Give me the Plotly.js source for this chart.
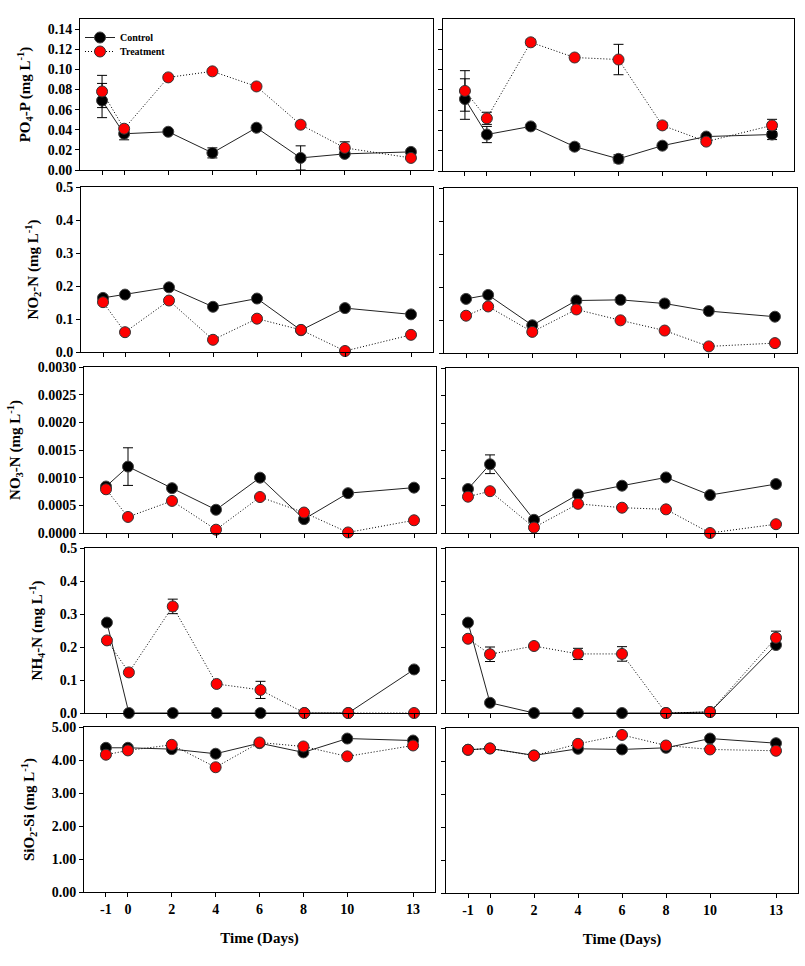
<!DOCTYPE html>
<html><head><meta charset="utf-8">
<script src="https://cdn.plot.ly/plotly-3.0.1.min.js"></script>
<style>html,body{margin:0;padding:0;background:#fff}#chart{width:805px;height:966px}</style>
</head><body><div id="chart"></div>
<script>
// ---------- data ----------
const days = [-1, 0, 2, 4, 6, 8, 10, 13];
const dayLabels = ['-1', '0', '2', '4', '6', '8', '10', '13'];

// PO4-P (left = A, right = B)
const po4CtrlA    = [0.069, 0.036, 0.038, 0.017, 0.042, 0.012, 0.016, 0.018];
const po4CtrlAErr = [0.017, 0.006, 0, 0.005, 0, 0.012, 0, 0];
const po4TrtA     = [0.078, 0.041, 0.092, 0.098, 0.083, 0.045, 0.022, 0.012];
const po4TrtAErr  = [0.016, 0, 0, 0, 0, 0, 0.006, 0];
const po4CtrlB    = [0.071, 0.036, 0.044, 0.024, 0.012, 0.025, 0.034, 0.036];
const po4CtrlBErr = [0.020, 0.008, 0, 0.003, 0.004, 0, 0, 0.005];
const po4TrtB     = [0.079, 0.052, 0.127, 0.112, 0.110, 0.045, 0.029, 0.045];
const po4TrtBErr  = [0.020, 0.006, 0.003, 0, 0.015, 0.003, 0, 0.006];

// NO2-N
const no2CtrlA = [0.164, 0.174, 0.196, 0.137, 0.162, 0.066, 0.133, 0.114];
const no2TrtA  = [0.151, 0.060, 0.156, 0.037, 0.101, 0.067, 0.003, 0.052];
const no2CtrlB = [0.164, 0.176, 0.084, 0.159, 0.161, 0.150, 0.127, 0.110];
const no2TrtB  = [0.113, 0.141, 0.064, 0.132, 0.099, 0.068, 0.020, 0.030];

// NO3-N
const no3CtrlA    = [0.00084, 0.00120, 0.00081, 0.00042, 0.00100, 0.00025, 0.00072, 0.00082];
const no3CtrlAErr = [0, 0.00034, 0, 0, 0, 0, 0, 0];
const no3TrtA     = [0.00079, 0.00029, 0.00058, 0.00006, 0.00065, 0.00037, 0.00001, 0.00023];
const no3CtrlB    = [0.00080, 0.00125, 0.00024, 0.00070, 0.00086, 0.00101, 0.00069, 0.00089];
const no3CtrlBErr = [0, 0.00017, 0, 0.00004, 0, 0, 0, 0.00005];
const no3TrtB     = [0.00066, 0.00076, 0.00010, 0.00053, 0.00046, 0.00043, 0.00000, 0.00016];

// NH4-N
const nh4CtrlA   = [0.274, 0, 0, 0, 0, 0, 0, 0.132];
const nh4TrtA    = [0.220, 0.123, 0.323, 0.088, 0.070, 0, 0, 0];
const nh4TrtAErr = [0, 0, 0.022, 0, 0.026, 0, 0, 0];
const nh4CtrlB   = [0.274, 0.031, 0, 0, 0, 0, 0.003, 0.206];
const nh4TrtB    = [0.225, 0.178, 0.203, 0.179, 0.179, 0, 0.003, 0.228];
const nh4TrtBErr = [0, 0.022, 0, 0.017, 0.022, 0, 0, 0.020];

// SiO2-Si
const sioCtrlA = [4.37, 4.37, 4.33, 4.19, 4.51, 4.23, 4.65, 4.59];
const sioTrtA  = [4.16, 4.29, 4.46, 3.78, 4.53, 4.41, 4.11, 4.44];
const sioCtrlB = [4.34, 4.38, 4.17, 4.37, 4.35, 4.40, 4.68, 4.54];
const sioTrtB  = [4.34, 4.38, 4.16, 4.52, 4.79, 4.47, 4.35, 4.31];

const seriesNames = ['Control', 'Treatment'];
const yTitles = [
  'PO<sub>4</sub>-P (mg L<sup>-1</sup>)',
  'NO<sub>2</sub>-N (mg L<sup>-1</sup>)',
  'NO<sub>3</sub>-N (mg L<sup>-1</sup>)',
  'NH<sub>4</sub>-N (mg L<sup>-1</sup>)',
  'SiO<sub>2</sub>-Si (mg L<sup>-1</sup>)'
];
const xTitle = 'Time (Days)';

// ---------- panel definitions ----------
const rows = [
  {A: [po4CtrlA, po4CtrlAErr, po4TrtA, po4TrtAErr], B: [po4CtrlB, po4CtrlBErr, po4TrtB, po4TrtBErr]},
  {A: [no2CtrlA, null, no2TrtA, null], B: [no2CtrlB, null, no2TrtB, null]},
  {A: [no3CtrlA, no3CtrlAErr, no3TrtA, null], B: [no3CtrlB, no3CtrlBErr, no3TrtB, null]},
  {A: [nh4CtrlA, null, nh4TrtA, nh4TrtAErr], B: [nh4CtrlB, null, nh4TrtB, nh4TrtBErr]},
  {A: [sioCtrlA, null, sioTrtA, null], B: [sioCtrlB, null, sioTrtB, null]}
];
const yCfg = [
  {range: [0, 0.15], dtick: 0.02, dec: 2},
  {range: [0, 0.5], dtick: 0.1, dec: 1},
  {range: [0, 0.003], dtick: 0.0005, dec: 4},
  {range: [0, 0.5], dtick: 0.1, dec: 1},
  {range: [0, 5], dtick: 1, dec: 2}
];
// pixel boxes [x0, x1, yTop, yBottom]
const W = 805, H = 966;
const boxes = [
  [[80, 433, 19, 170], [443, 794, 19, 171]],
  [[81, 433, 187, 352], [444, 797, 188, 353]],
  [[84, 436, 367, 533], [446, 798, 368, 533]],
  [[85, 436, 548, 713], [446, 798, 548, 713]],
  [[84, 435, 727, 892], [446, 798, 728, 893]]
];

const FONT = 'Liberation Serif, Times New Roman, serif';
const traces = [];
const layout = {
  width: W, height: H,
  margin: {l: 0, r: 0, t: 0, b: 0},
  paper_bgcolor: '#fff', plot_bgcolor: '#fff',
  font: {family: FONT, color: '#000'},
  showlegend: true,
  legend: {x: 80 / W, y: 1 - 23 / H, xanchor: 'left', yanchor: 'top', bgcolor: 'rgba(0,0,0,0)',
           font: {family: FONT, size: 10, weight: 'bold', color: '#000'}},
  legend2: {x: 80 / W, y: 1 - 37 / H, xanchor: 'left', yanchor: 'top', bgcolor: 'rgba(0,0,0,0)',
            font: {family: FONT, size: 10, weight: 'bold', color: '#000'}}
};

function errObj(arr) {
  if (!arr) return {visible: false};
  return {type: 'data', array: arr.map(v => v > 0 ? v : NaN), visible: true,
          color: '#000', thickness: 1, width: 5};
}

rows.forEach((row, r) => {
  ['A', 'B'].forEach((col, c) => {
    const idx = r * 2 + c + 1;
    const xa = 'x' + (idx === 1 ? '' : idx), ya = 'y' + (idx === 1 ? '' : idx);
    const [ctrl, ctrlErr, trt, trtErr] = row[col];
    const first = idx === 1;
    traces.push({
      x: days, y: ctrl, xaxis: xa, yaxis: ya, type: 'scatter', mode: 'lines+markers',
      name: seriesNames[0], showlegend: first, legend: 'legend', cliponaxis: false,
      line: {color: '#222', width: 1},
      marker: {color: '#000', size: 11, line: {color: '#444', width: 1}},
      error_y: errObj(ctrlErr)
    });
    traces.push({
      x: days, y: trt, xaxis: xa, yaxis: ya, type: 'scatter', mode: 'lines+markers',
      name: seriesNames[1], showlegend: first, legend: 'legend2', cliponaxis: false,
      line: {color: '#000', width: 1, dash: '1px,2px'},
      marker: {color: '#ff0000', size: 11, line: {color: '#333', width: 1}},
      error_y: errObj(trtErr)
    });
    const b = boxes[r][c];
    const axKey = idx === 1 ? '' : idx;
    const yc = yCfg[r];
    const tickvals = [];
    for (let v = yc.range[0]; v <= yc.range[1] + 1e-12; v += yc.dtick) tickvals.push(+v.toFixed(6));
    const xax = {
      domain: [b[0] / W, b[1] / W], range: [-2, 14], anchor: ya,
      tickmode: 'array', tickvals: days, ticktext: dayLabels,
      showticklabels: r === 4, ticks: 'outside', ticklen: 4, tickwidth: 1, tickcolor: '#000',
      showline: true, linecolor: '#000', linewidth: 1, mirror: true,
      showgrid: false, zeroline: false,
      tickfont: {family: FONT, size: 14, weight: 'bold', color: '#000'}
    };
    if (r === 4) xax.title = {text: xTitle, font: {family: FONT, size: 15, weight: 'bold', color: '#000'}, standoff: 16};
    layout['xaxis' + axKey] = xax;
    const yax = {
      domain: [1 - b[3] / H, 1 - b[2] / H], range: yc.range, anchor: xa,
      tickmode: 'array', tickvals: tickvals, ticktext: tickvals.map(v => v.toFixed(yc.dec)),
      showticklabels: c === 0, ticks: 'outside', ticklen: 4, tickwidth: 1, tickcolor: '#000',
      showline: true, linecolor: '#000', linewidth: 1, mirror: true,
      showgrid: false, zeroline: false,
      tickfont: {family: FONT, size: 14, weight: 'bold', color: '#000'}
    };
    if (c === 0) yax.title = {text: yTitles[r], font: {family: FONT, size: 15, weight: 'bold', color: '#000'}, standoff: 13};
    layout['yaxis' + axKey] = yax;
  });
});

Plotly.newPlot('chart', traces, layout, {staticPlot: true, displayModeBar: false});
</script>
</body></html>
